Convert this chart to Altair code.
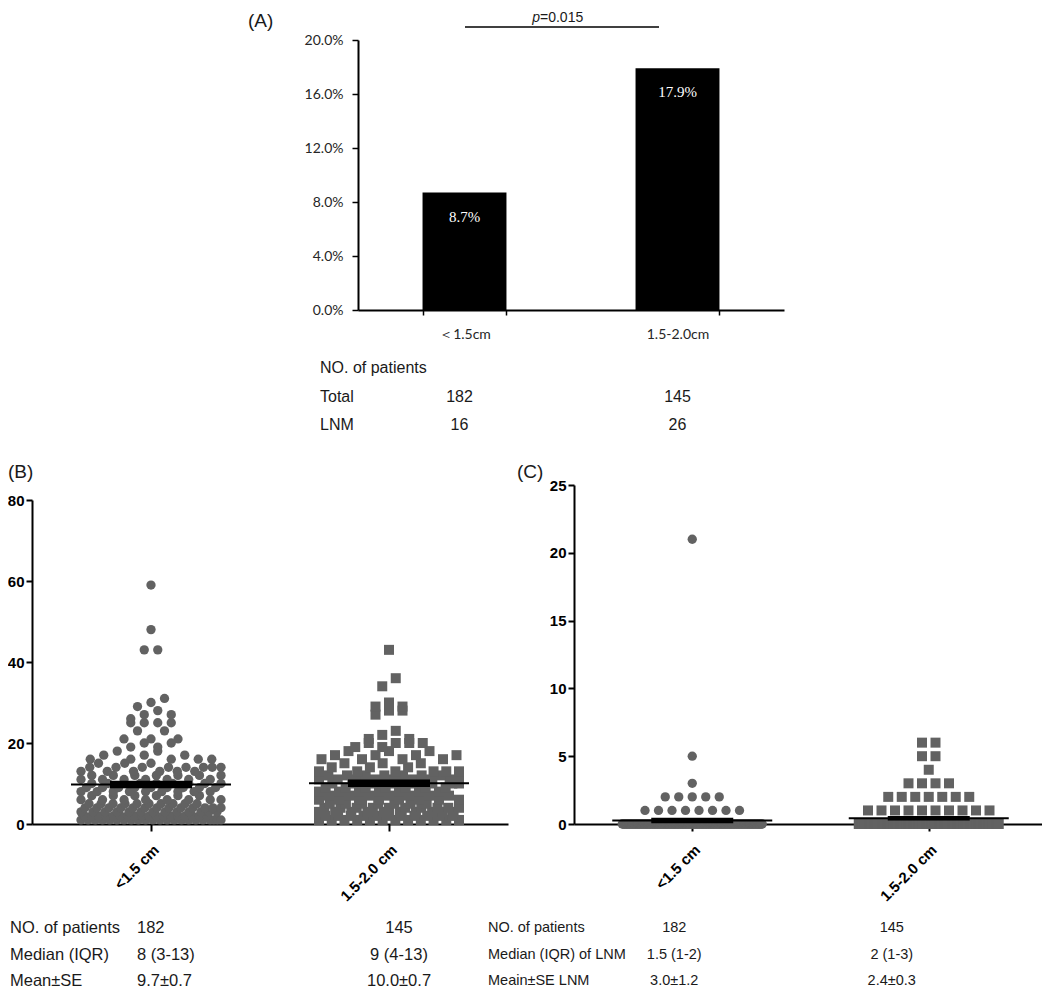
import altair as alt
import pandas as pd

W, H = 1034, 980

# ---------------- Panel A data ----------------
A_CATEGORIES = ["＜1.5cm", "1.5-2.0cm"]
A_RATES = [8.7, 17.9]
A_RATE_LABELS = ["8.7%", "17.9%"]
A_Y_TICKS = [0, 4, 8, 12, 16, 20]
A_ROW_LABELS = ["NO. of patients", "Total", "LNM"]
A_TOTAL = ["182", "145"]
A_LNM = ["16", "26"]
P_TEXT = ["p", "=0.015"]
PANEL_LABELS = ["(A)", "(B)", "(C)"]

# ---------------- Panel B data (retrieved lymph nodes) ----------------
GROUPS = ["<1.5 cm", "1.5-2.0 cm"]
B_LEFT_VALUES = [1, 2, 3, 4, 5, 6, 7, 8, 9, 10, 11, 12, 13, 14, 15, 16, 17, 18, 19, 20, 21,
                 23, 25, 26, 27, 28, 29, 30, 31, 43, 48, 59]
B_LEFT_COUNTS = [22, 18, 13, 13, 10, 8, 6, 9, 9, 9, 7, 7, 6, 8, 3, 5, 3, 2, 2, 2, 3,
                 2, 4, 1, 2, 1, 1, 1, 1, 2, 1, 1]
B_RIGHT_VALUES = [1, 2, 3, 4, 5, 6, 7, 8, 9, 10, 11, 12, 13, 14, 15, 16, 17, 18, 19, 20, 21,
                  22, 23, 27, 28, 29, 30, 34, 36, 43]
B_RIGHT_COUNTS = [12, 11, 10, 10, 7, 8, 7, 7, 7, 8, 8, 8, 6, 3, 3, 4, 4, 3, 2, 4, 2,
                  1, 1, 1, 2, 2, 1, 1, 1, 1]
B_Y_TICKS = [0, 20, 40, 60, 80]
B_ROW_LABELS = ["NO. of patients", "Median (IQR)", "Mean±SE"]
B_LEFT_STATS = ["182", "8 (3-13)", "9.7±0.7"]
B_RIGHT_STATS = ["145", "9 (4-13)", "10.0±0.7"]

# ---------------- Panel C data (metastatic lymph nodes) ----------------
C_LEFT_VALUES = [0, 1, 2, 3, 5, 21]
C_LEFT_COUNTS = [166, 8, 5, 1, 1, 1]
C_RIGHT_VALUES = [0, 1, 2, 3, 4, 5, 6]
C_RIGHT_COUNTS = [119, 10, 7, 4, 1, 2, 2]
C_Y_TICKS = [0, 5, 10, 15, 20, 25]
C_ROW_LABELS = ["NO. of patients", "Median (IQR) of LNM", "Meain±SE LNM"]
C_LEFT_STATS = ["182", "1.5 (1-2)", "3.0±1.2"]
C_RIGHT_STATS = ["145", "2 (1-3)", "2.4±0.3"]

SANS = "Liberation Sans"
SERIF = "Liberation Serif"
CAL = "Lato"
TXT = "#1a1a1a"
DOT = "#626262"


def one_text(txt, x, y, align="left", size=16, font=SANS, style="normal", weight="normal",
             color=TXT, baseline="middle"):
    return alt.Chart(pd.DataFrame({"t": [txt]})).mark_text(
        align=align, baseline=baseline, font=font, fontSize=size, fontStyle=style,
        fontWeight=weight, color=color
    ).encode(x=alt.value(x), y=alt.value(y), text="t:N")


layers = []

# ================= Panel A =================
a_df = pd.DataFrame({"size": A_CATEGORIES, "rate": A_RATES, "lab": A_RATE_LABELS})


def xsA():
    return alt.Scale(type="band", domain=A_CATEGORIES, range=[350, 776],
                     paddingInner=0.606, paddingOuter=0.303)


def ysA():
    return alt.Scale(domain=[0, 20], range=[302, 32], nice=False, zero=True)


a_xaxis = alt.Axis(orient="bottom", offset=-(H - 302), title=None, tickBand="extent",
                   labelAngle=0, labelFont=CAL, labelFontSize=14, labelColor="#262626",
                   labelPadding=12, tickSize=5, tickColor="black", tickWidth=1.5,
                   domainColor="black", domainWidth=2, grid=False)
a_yaxis = alt.Axis(orient="left", offset=-350, title=None, values=A_Y_TICKS,
                   labelExpr="format(datum.value, '.1f') + '%'", labelFont=CAL,
                   labelFontSize=14, labelColor="#262626", labelPadding=9, tickSize=6,
                   tickColor="black", tickWidth=1.5, domainColor="black", domainWidth=2,
                   grid=False)

layers.append(alt.Chart(a_df).mark_bar(color="black").encode(
    x=alt.X("size:N", scale=xsA(), axis=a_xaxis),
    y=alt.Y("rate:Q", scale=ysA(), axis=a_yaxis),
))
layers.append(alt.Chart(a_df).mark_text(
    font=SERIF, fontSize=15, color="white", baseline="middle", dy=24
).encode(
    x=alt.X("size:N", scale=xsA(), axis=None),
    y=alt.Y("rate:Q", scale=ysA(), axis=None),
    text="lab:N",
))
layers.append(one_text(PANEL_LABELS[0], 240, 19, size=19, baseline="alphabetic"))
layers.append(one_text(P_TEXT[0], 532, 14, align="right", size=14, style="italic",
                       baseline="alphabetic"))
layers.append(one_text(P_TEXT[1], 532, 14, align="left", size=14, baseline="alphabetic"))
layers.append(
    alt.Chart(pd.DataFrame({"k": [0]})).mark_rule(color="black", strokeWidth=1.5).encode(
        x=alt.value(457), x2=alt.value(651), y=alt.value(19)
    )
)
A_ROW_Y = [360, 389, 417]
for lab, yy in zip(A_ROW_LABELS, A_ROW_Y):
    layers.append(one_text(lab, 312, yy, size=16))
for row_vals, yy in [(A_TOTAL, A_ROW_Y[1]), (A_LNM, A_ROW_Y[2])]:
    for i, (cat, val) in enumerate(zip(A_CATEGORIES, row_vals)):
        layers.append(
            alt.Chart(pd.DataFrame({"size": [cat], "t": [val]})).mark_text(
                align="center", baseline="middle", font=SANS, fontSize=16, color=TXT,
                dx=-5 if i == 0 else 0
            ).encode(x=alt.X("size:N", scale=xsA(), axis=None), y=alt.value(yy), text="t:N")
        )


# ================= Dot panels B & C =================
def expand(values, counts, idx):
    rows = []
    for v, c in zip(values, counts):
        rows += [{"idx": idx, "value": v}] * c
    return rows


def dot_layers(lv, lc, rv, rc, xr, yr, ydom, yticks, panel_label, label_x,
               row_labels, row_x, table_size, left_stats, right_stats, left_align,
               left_dx, right_dx):
    out = []
    ppu = (xr[1] - xr[0]) / 2.0
    px_per_unit = abs(yr[0] - yr[1]) / float(ydom[1] - ydom[0])
    bin_units = 10.5 / px_per_unit
    df = pd.DataFrame(expand(lv, lc, 0) + expand(rv, rc, 1))

    def xs():
        return alt.Scale(domain=[-0.5, 1.5], range=xr, nice=False, zero=False)

    def ys():
        return alt.Scale(domain=ydom, range=yr, nice=False, zero=False)

    label_expr = "datum.value == 0 ? '%s' : '%s'" % (GROUPS[0], GROUPS[1])
    x_axis = alt.Axis(orient="bottom", offset=-(H - yr[0]), title=None, values=[0, 1],
                      labelExpr=label_expr, labelAngle=-45, labelAlign="right",
                      labelBaseline="top", labelFont=SANS, labelFontWeight="bold",
                      labelFontSize=15, labelColor="black", labelPadding=11, tickSize=7,
                      tickColor="black", tickWidth=2, domainColor="black",
                      domainWidth=2, grid=False)
    y_axis = alt.Axis(orient="left", offset=-xr[0], title=None, values=yticks,
                      labelFont=SANS, labelFontWeight="bold", labelFontSize=15,
                      labelColor="black", labelPadding=2, tickSize=6, tickColor="black",
                      tickWidth=2, domainColor="black", domainWidth=2, grid=False)

    base = alt.Chart(df).transform_calculate(
        bn="floor(datum.value / %f)" % bin_units
    ).transform_window(
        rv="row_number()", groupby=["idx", "value"]
    ).transform_window(
        rb="row_number()", groupby=["idx", "bn"],
        sort=[alt.SortField("rv"), alt.SortField("value")]
    ).transform_joinaggregate(
        nb="count()", groupby=["idx", "bn"]
    ).transform_calculate(
        xo="datum.idx + (datum.rb - (datum.nb + 1) / 2) * min(13.5, 140 / max(datum.nb - 1, 1)) / %f" % ppu
    )
    out.append(base.transform_filter("datum.idx == 0").mark_circle(
        size=87, color=DOT, opacity=1
    ).encode(
        x=alt.X("xo:Q", scale=xs(), axis=x_axis),
        y=alt.Y("value:Q", scale=ys(), axis=y_axis),
    ))
    out.append(base.transform_filter("datum.idx == 1").mark_square(
        size=100, color=DOT, opacity=1
    ).encode(
        x=alt.X("xo:Q", scale=xs(), axis=None),
        y=alt.Y("value:Q", scale=ys(), axis=None),
    ))
    stats = alt.Chart(df).transform_aggregate(
        m="mean(value)", se="stderr(value)", groupby=["idx"]
    ).transform_calculate(
        lo="datum.idx - %f" % (80 / ppu),
        hi="datum.idx + %f" % (80 / ppu),
        slo="datum.idx - %f" % (40 / ppu),
        shi="datum.idx + %f" % (40 / ppu),
        ylo="datum.m - datum.se",
        yhi="datum.m + datum.se",
    )
    out.append(stats.mark_rule(color="black", strokeWidth=2).encode(
        x=alt.X("lo:Q", scale=xs(), axis=None), x2="hi:Q",
        y=alt.Y("m:Q", scale=ys(), axis=None),
    ))
    out.append(stats.mark_rect(color="black", stroke="black", strokeWidth=2).encode(
        x=alt.X("slo:Q", scale=xs(), axis=None), x2="shi:Q",
        y=alt.Y("ylo:Q", scale=ys(), axis=None), y2="yhi:Q",
    ))
    out.append(one_text(panel_label, label_x, 464, size=19))
    row_y = [920, 947, 973]
    for lab, yy in zip(row_labels, row_y):
        out.append(one_text(lab, row_x, yy, size=table_size))
    for col, (vals, align, dx) in enumerate([(left_stats, left_align, left_dx),
                                              (right_stats, "center", right_dx)]):
        for val, yy in zip(vals, row_y):
            out.append(
                alt.Chart(pd.DataFrame({"idx": [col], "t": [val]})).mark_text(
                    align=align, baseline="middle", font=SANS, fontSize=table_size,
                    color=TXT, dx=dx
                ).encode(x=alt.X("idx:Q", scale=xs(), axis=None), y=alt.value(yy), text="t:N")
            )
    return out


layers += dot_layers(B_LEFT_VALUES, B_LEFT_COUNTS, B_RIGHT_VALUES, B_RIGHT_COUNTS,
                     [24, 500], [816, 492], [0, 80], B_Y_TICKS, PANEL_LABELS[1], 0,
                     B_ROW_LABELS, 2, 16.5, B_LEFT_STATS, B_RIGHT_STATS, "left", -14, 10)
layers += dot_layers(C_LEFT_VALUES, C_LEFT_COUNTS, C_RIGHT_VALUES, C_RIGHT_COUNTS,
                     [566, 1039], [816, 477], [0, 25], C_Y_TICKS, PANEL_LABELS[2], 509,
                     C_ROW_LABELS, 480, 14.5, C_LEFT_STATS, C_RIGHT_STATS, "center", -18, -37)

chart = alt.layer(*layers).resolve_scale(
    x="independent", y="independent"
).properties(
    width=W, height=H, autosize=alt.AutoSizeParams(type="none"), padding=0
).configure_view(stroke=None)

chart.save("out.html", embed_options={"renderer": "svg", "actions": False})
